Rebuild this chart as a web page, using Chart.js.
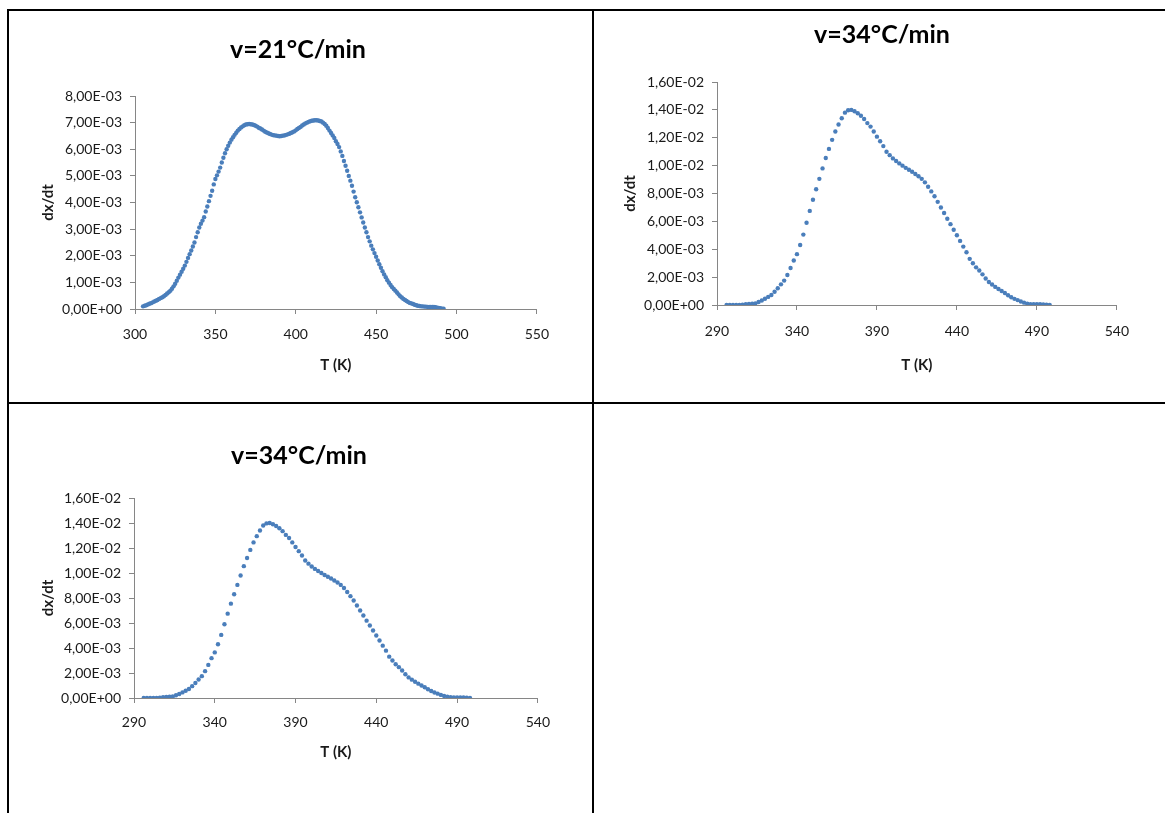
<!DOCTYPE html>
<html lang="fr">
<head>
<meta charset="UTF-8">
<title>dx/dt - T (K)</title>
<style>
  html, body { margin: 0; padding: 0; background: #fff; }
  #page { position: relative; width: 1165px; height: 813px; overflow: hidden; }
  .rule { position: absolute; background: #000; }
  canvas { position: absolute; }
</style>
</head>
<body>
<div id="page">
  <!-- table lines -->
  <div class="rule" style="left:7px; top:9px; width:1158px; height:2px;"></div>
  <div class="rule" style="left:7px; top:9px; width:2px; height:804px;"></div>
  <div class="rule" style="left:592px; top:9px; width:2px; height:804px;"></div>
  <div class="rule" style="left:7px; top:402px; width:1158px; height:2px;"></div>

  <canvas id="c21" width="536" height="369" style="left:25px; top:15px;"></canvas>
  <canvas id="c34a" width="530" height="369" style="left:612px; top:15px;"></canvas>
  <canvas id="c34b" width="534" height="361" style="left:27px; top:410px;"></canvas>
</div>

<script src="https://cdn.jsdelivr.net/npm/chart.js"></script>
<script>
// v = 21 °C/min : T (K) and dx/dt (x 1E-03)
const T21 = [
  305,306,307,308,309,310,311,312,313,314,315,316,317,318,319,320,321,322,323,324,
  325,326,327,328,329,330,331,332,333,334,335,336,337,338,339,340,341,342,343,344,
  345,346,347,348,349,350,351,352,353,354,355,356,357,358,359,360,361,362,363,364,
  365,366,367,368,369,370,371,372,373,374,375,376,377,378,379,380,381,382,383,384,
  385,386,387,388,389,390,391,392,393,394,395,396,397,398,399,400,401,402,403,404,
  405,406,407,408,409,410,411,412,413,414,415,416,417,418,419,420,421,422,423,424,
  425,426,427,428,429,430,431,432,433,434,435,436,437,438,439,440,441,442,443,444,
  445,446,447,448,449,450,451,452,453,454,455,456,457,458,459,460,461,462,463,464,
  465,466,467,468,469,470,471,472,473,474,475,476,477,478,479,480,481,482,483,484,
  485,486,487,488,489,490,491,492
];
const dxdt21 = [
  0.10,0.12,0.14,0.17,0.20,0.22,0.25,0.28,0.31,0.34,0.38,0.41,0.44,0.48,0.53,0.58,0.63,0.69,0.76,0.85,
  0.95,1.06,1.18,1.29,1.40,1.51,1.63,1.77,1.92,2.06,2.20,2.35,2.50,2.70,2.88,3.06,3.20,3.32,3.45,3.66,
  3.85,4.05,4.25,4.44,4.68,4.88,5.02,5.16,5.31,5.50,5.68,5.85,6.00,6.13,6.25,6.36,6.45,6.54,6.62,6.70,
  6.76,6.82,6.86,6.90,6.93,6.94,6.95,6.94,6.93,6.91,6.88,6.85,6.81,6.78,6.74,6.70,6.66,6.63,6.60,6.57,
  6.55,6.53,6.52,6.51,6.50,6.49,6.50,6.51,6.52,6.54,6.56,6.58,6.61,6.64,6.67,6.71,6.76,6.80,6.84,6.89,
  6.93,6.97,7.00,7.03,7.05,7.07,7.08,7.09,7.09,7.08,7.06,7.04,7.00,6.95,6.88,6.80,6.70,6.61,6.52,6.42,
  6.30,6.20,6.08,5.92,5.75,5.56,5.38,5.19,5.00,4.82,4.63,4.41,4.20,4.01,3.82,3.63,3.44,3.25,3.06,2.88,
  2.70,2.54,2.38,2.24,2.10,1.96,1.82,1.68,1.55,1.42,1.30,1.19,1.08,0.99,0.90,0.82,0.75,0.69,0.62,0.55,
  0.48,0.43,0.38,0.34,0.30,0.26,0.23,0.21,0.19,0.16,0.14,0.12,0.11,0.10,0.10,0.09,0.09,0.08,0.08,0.08,
  0.08,0.08,0.07,0.05,0.04,0.03,0.01,0.01
];

// v = 34 °C/min : T (K) and dx/dt (x 1E-03)
const T34 = [
  296,298,300,302,304,306,308,310,312,314,316,318,320,322,324,326,328,330,332,334,
  336,338,340,342,344,346,348,350,352,354,356,358,360,362,364,366,368,370,372,374,
  376,378,380,382,384,386,388,390,392,394,396,398,400,402,404,406,408,410,412,414,
  416,418,420,422,424,426,428,430,432,434,436,438,440,442,444,446,448,450,452,454,
  456,458,460,462,464,466,468,470,472,474,476,478,480,482,484,486,488,490,492,494,
  496,498
];
const dxdt34 = [
  0.00,0.00,0.00,0.00,0.00,0.03,0.06,0.08,0.10,0.12,0.22,0.32,0.45,0.58,0.72,0.95,1.20,1.48,1.75,2.15,
  2.65,3.19,3.65,4.30,5.05,5.90,6.75,7.55,8.30,9.05,9.80,10.55,11.20,11.85,12.45,12.95,13.40,13.80,13.97,14.00,
  13.90,13.76,13.58,13.35,13.05,12.80,12.45,12.08,11.75,11.40,11.00,10.75,10.52,10.33,10.16,10.00,9.84,9.70,9.56,9.40,
  9.24,9.05,8.80,8.48,8.15,7.80,7.40,7.00,6.60,6.19,5.80,5.40,5.00,4.60,4.19,3.79,3.31,3.00,2.70,2.47,
  2.20,1.90,1.65,1.47,1.30,1.15,1.00,0.86,0.70,0.56,0.44,0.35,0.25,0.17,0.10,0.06,0.05,0.05,0.05,0.04,
  0.03,0.01
];

const xTicks21 = [300, 350, 400, 450, 500, 550];
const xTicks34 = [290, 340, 390, 440, 490, 540];
const yTicks21 = ['0,00E+00','1,00E-03','2,00E-03','3,00E-03','4,00E-03','5,00E-03','6,00E-03','7,00E-03','8,00E-03'];
const yTicks34 = ['0,00E+00','2,00E-03','4,00E-03','6,00E-03','8,00E-03','1,00E-02','1,20E-02','1,40E-02','1,60E-02'];

Chart.defaults.font.family = 'Lato, "Open Sans", sans-serif';
const blue = '#4a7ebb';
const axisGray = '#868686';

function drawChart(id, title, T, D, xTicks, yTicks, yStep, L) {
  new Chart(document.getElementById(id), {
    type: 'scatter',
    data: {
      datasets: [{
        data: T.map((t, i) => ({ x: t, y: D[i] * 1e-3 })),
        pointRadius: 2.2,
        pointHoverRadius: 2.2,
        pointBackgroundColor: blue,
        pointBorderWidth: 0
      }]
    },
    options: {
      responsive: false,
      animation: false,
      // left padding leaves room for the y title, drawn left of the axis box
      layout: { padding: { left: 20, right: 10, top: 0, bottom: 10 } },
      plugins: {
        legend: { display: false },
        tooltip: { enabled: false },
        title: {
          display: true,
          text: title,
          color: '#000',
          font: { size: 25, weight: 'bold' },
          padding: { top: L.tTop, bottom: L.tBottom }
        }
      },
      scales: {
        x: {
          type: 'linear',
          min: xTicks[0],
          max: xTicks[xTicks.length - 1],
          afterFit: s => { s.height = L.xH; },
          ticks: {
            stepSize: 50,
            padding: L.xPad,
            maxRotation: 0,
            color: '#1a1a1a',
            font: { size: 14 },
            callback: (v, i) => xTicks[i]
          },
          grid: { drawOnChartArea: false, tickLength: 5, color: axisGray },
          border: { color: axisGray, width: 1 },
          title: {
            display: true, text: 'T (K)', color: '#1a1a1a',
            font: { size: 15, weight: 'bold' },
            padding: { top: 0, bottom: 0 }
          }
        },
        y: {
          min: 0,
          max: yStep * (yTicks.length - 1),
          afterFit: s => { s.width = L.yW; },
          ticks: {
            stepSize: yStep,
            padding: 8,
            color: '#1a1a1a',
            font: { size: 14 },
            callback: (v, i) => yTicks[i]
          },
          grid: { drawOnChartArea: false, tickLength: 5, color: axisGray },
          border: { color: axisGray, width: 1 },
          title: {
            display: true, text: 'dx/dt', color: '#1a1a1a',
            font: { size: 15, weight: 'bold' },
            padding: { top: L.yTitlePad, bottom: 0 }
          }
        }
      }
    }
  });
}

drawChart('c21', 'v=21°C/min', T21, dxdt21, xTicks21, yTicks21, 0.001,
  { tTop: 20, tBottom: 31, xH: 65, xPad: 12, yW: 90, yTitlePad: -6 });
drawChart('c34a', 'v=34°C/min', T34, dxdt34, xTicks34, yTicks34, 0.002,
  { tTop: 5, tBottom: 32, xH: 69, xPad: 13, yW: 85, yTitlePad: -11 });
drawChart('c34b', 'v=34°C/min', T34, dxdt34, xTicks34, yTicks34, 0.002,
  { tTop: 31, tBottom: 27, xH: 63, xPad: 11, yW: 87, yTitlePad: -8 });
</script>
</body>
</html>
